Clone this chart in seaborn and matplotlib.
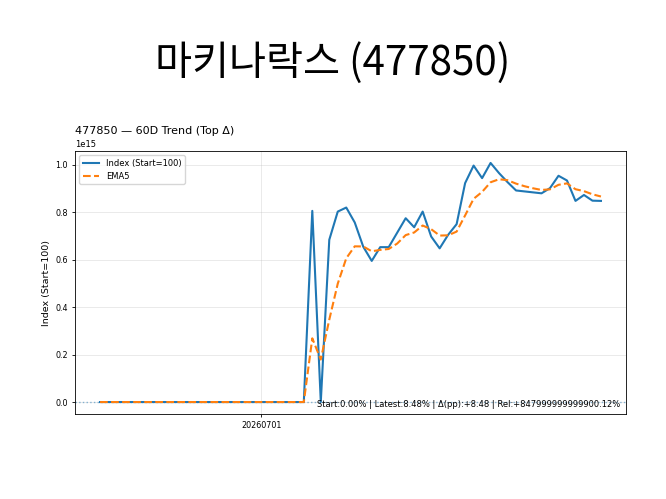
import matplotlib
matplotlib.use("Agg")
import matplotlib.pyplot as plt
import matplotlib.dates as mdates
import seaborn as sns
import pandas as pd
import numpy as np

# ---- data ----
start_date = "2026-06-12"
n_days = 60
flat = [100.0] * 25
index_values = flat + [
    8.06e14, 100.0, 6.84e14, 8.03e14, 8.20e14, 7.57e14, 6.55e14, 5.95e14,
    6.53e14, 6.53e14, 7.14e14, 7.75e14, 7.37e14, 8.03e14, 6.98e14, 6.48e14,
    7.05e14, 7.50e14, 9.23e14, 9.97e14, 9.44e14, 1.008e15, 9.65e14, 9.27e14,
    8.92e14, 8.88e14, 8.84e14, 8.80e14, 9.02e14, 9.54e14, 9.34e14, 8.48e14,
    8.73e14, 8.49e14, 8.48e14,
]
tick_dates = ["2026-07-01"]
suptitle = "마키나락스 (477850)"
title = "477850 — 60D Trend (Top Δ)"
note = "Start:0.00% | Latest:8.48% | Δ(pp):+8.48 | Rel:+847999999999900.12%"

dates = pd.date_range(start_date, periods=n_days, freq="D")
df = pd.DataFrame({"date": dates, "index": index_values})
df["ema"] = df["index"].ewm(span=5, adjust=False).mean()

plt.rcParams["font.family"] = ["DejaVu Sans"]

fig = plt.figure(figsize=(6.66, 4.99), dpi=100)
ax = fig.add_axes([75 / 666, 1 - 414 / 499, (626 - 75) / 666, (414 - 151) / 499])

ax.axhline(100, color="#1f77b4", linestyle=":", linewidth=1.0, alpha=0.5)
sns.lineplot(data=df, x="date", y="index", ax=ax, color="#1f77b4",
             linewidth=1.5, label="Index (Start=100)")
sns.lineplot(data=df, x="date", y="ema", ax=ax, color="#ff7f0e",
             linewidth=1.5, linestyle="--", label="EMA5")

ax.set_xticks([pd.Timestamp(d) for d in tick_dates])
ax.xaxis.set_major_formatter(mdates.DateFormatter("%Y%m%d"))
ax.set_xlabel("")
ax.set_ylabel("Index (Start=100)", fontsize=6.8, labelpad=3)
ax.tick_params(axis="both", labelsize=5.8, length=2.5, width=0.6, pad=2.5)
ax.yaxis.get_offset_text().set_fontsize(6)
for s in ax.spines.values():
    s.set_linewidth(0.6)
ax.grid(True, color="#b0b0b0", alpha=0.3, linewidth=0.6)
ax.set_title(title, loc="left", fontsize=8, pad=4)
ax.legend(loc="upper left", fontsize=6)
ax.text(0.99, 0.02, note, transform=ax.transAxes, ha="right", va="bottom", fontsize=6)

fig.suptitle(suptitle, fontsize=29, y=0.915,
             family=["Noto Sans CJK KR", "DejaVu Sans"])

fig.savefig("out.png", dpi=100)
